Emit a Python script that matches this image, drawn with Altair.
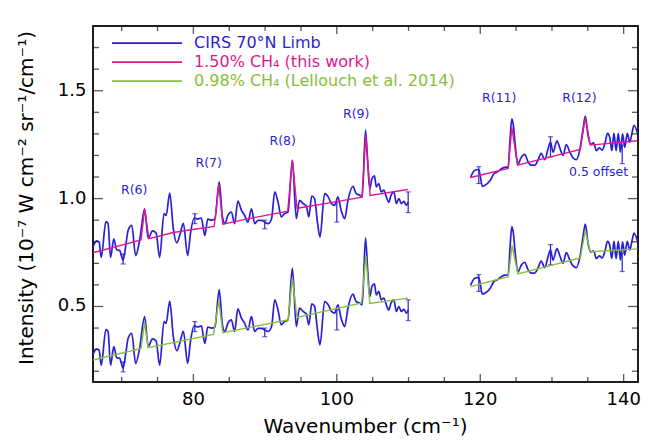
import altair as alt
import pandas as pd

BLUE = "#2a1fd6"
MAGENTA = "#e2178f"
GREEN = "#86c03a"
INK = "#111111"
FONT = "DejaVu Sans"

OBS = "CIRS 70°N Limb"
M150 = "1.50% CH₄ (this work)"
M098 = "0.98% CH₄ (Lellouch et al. 2014)"
X_TITLE = "Wavenumber (cm⁻¹)"
Y_TITLE = "Intensity (10⁻⁷ W cm⁻² sr⁻¹/cm⁻¹)"
OFFSET = 0.5  # the upper set is shown with a 0.5 offset

# ---- observed spectrum (upper, offset copy), segment 1 ----
obs1_wn = [66.0, 66.5, 66.85, 67.15, 67.8, 68.1, 68.45, 68.9, 69.3, 69.7,
           70.2, 70.6, 70.9, 71.4, 71.95, 72.5, 73.2, 73.7, 74.3, 74.8,
           75.3, 75.9, 76.2, 76.7, 77.2, 77.7, 78.1, 78.6, 79.2, 79.6,
           80.1, 80.6, 81.1, 81.6, 82.0, 82.5, 83.0, 83.6, 84.05, 84.4,
           84.8, 85.3, 85.75, 86.2, 86.7, 87.15, 87.6, 88.1, 88.55, 89.0,
           89.5, 89.95, 90.4, 90.9, 91.35, 91.8, 92.25, 92.7, 93.2, 93.8,
           94.35, 94.8, 95.3, 95.75, 96.1, 96.5, 96.9, 97.3, 97.65, 98.3,
           98.8, 99.25, 99.7, 100.15, 100.6, 101.1, 101.55, 102.25, 102.7, 103.2,
           103.55, 104.0, 104.3, 104.6, 104.9, 105.25, 105.5, 105.85, 106.2, 106.55,
           106.9, 107.25, 107.55, 107.95, 108.3, 108.65, 109.0, 109.35, 109.7, 109.95]
obs1_val = [0.775, 0.804, 0.798, 0.728, 0.893, 0.884, 0.728, 0.814, 0.763, 0.760,
            0.715, 0.790, 0.853, 0.876, 0.736, 0.806, 0.953, 0.815, 0.850, 0.840,
            0.728, 0.930, 0.922, 1.025, 0.860, 0.795, 0.830, 0.885, 0.736, 0.840,
            0.910, 0.905, 0.910, 0.829, 0.905, 0.900, 0.905, 1.078, 0.915, 0.884,
            0.922, 0.938, 0.884, 0.989, 0.946, 0.922, 0.891, 0.953, 0.884, 0.899,
            0.899, 0.891, 0.884, 0.907, 1.031, 0.984, 0.915, 0.930, 0.938, 1.178,
            0.907, 0.992, 0.977, 0.965, 0.915, 1.012, 1.000, 0.891, 0.822, 1.023,
            1.008, 0.977, 0.969, 1.008, 0.946, 0.907, 0.992, 1.057, 1.023, 1.016,
            1.008, 1.318, 1.171, 1.046, 1.093, 1.105, 1.054, 1.070, 1.031, 1.039,
            1.008, 0.984, 1.015, 1.031, 0.977, 1.000, 0.977, 0.987, 0.969, 0.984]

# ---- observed spectrum (upper), segment 2 ----
obs2_wn = [118.65, 119.2, 119.8, 120.3, 120.85, 121.4, 121.9, 122.45, 122.95, 123.4,
           123.9, 124.15, 124.4, 124.6, 124.9, 125.25, 125.7, 126.2, 126.65, 127.1,
           127.6, 128.05, 128.5, 129.0, 129.45, 129.8, 130.15, 130.7, 131.1, 131.55,
           132.0, 132.5, 132.95, 133.4, 133.95, 134.35, 134.65, 135.05, 135.4, 135.8,
           136.2, 136.6, 137.0, 137.4, 137.75, 138.05, 138.35, 138.65, 138.95, 139.25,
           139.55, 139.85, 140.15, 140.5, 140.85, 141.2, 141.45, 141.95]
obs2_val = [1.098, 1.130, 1.135, 1.057, 1.066, 1.085, 1.115, 1.125, 1.138, 1.145,
            1.147, 1.270, 1.370, 1.345, 1.240, 1.160, 1.190, 1.205, 1.172, 1.155,
            1.155, 1.178, 1.210, 1.180, 1.230, 1.262, 1.215, 1.268, 1.235, 1.200,
            1.250, 1.215, 1.188, 1.180, 1.238, 1.326, 1.382, 1.290, 1.252, 1.258,
            1.222, 1.235, 1.225, 1.258, 1.302, 1.285, 1.222, 1.302, 1.222, 1.302,
            1.215, 1.300, 1.238, 1.302, 1.262, 1.310, 1.340, 1.300]

# ---- 1.50% CH4 model (upper) ----
m150_1_wn = [66.0, 72.7, 73.2, 73.8, 77.2, 80.6, 82.9, 83.55, 84.1, 87.4,
             93.15, 93.82, 94.45, 99.0, 103.5, 104.05, 104.65, 109.9]
m150_1_val = [0.749, 0.808, 0.951, 0.814, 0.843, 0.860, 0.871, 1.065, 0.882, 0.905,
              0.942, 1.177, 0.955, 0.980, 1.007, 1.295, 1.015, 1.042]
m150_2_wn = [118.65, 123.9, 124.4, 125.2, 133.95, 134.65, 135.35, 141.95]
m150_2_val = [1.098, 1.140, 1.330, 1.155, 1.228, 1.375, 1.248, 1.268]

# ---- 0.98% CH4 model (lower) ----
m098_1_wn = [66.0, 72.7, 73.2, 73.7, 82.8, 83.55, 84.1, 93.2, 93.8, 94.45,
             103.45, 104.05, 104.6, 109.9]
m098_1_val = [0.252, 0.306, 0.425, 0.309, 0.371, 0.526, 0.379, 0.438, 0.630, 0.449,
              0.516, 0.736, 0.514, 0.539]
m098_2_wn = [118.65, 123.9, 124.45, 125.25, 133.95, 134.65, 135.35, 141.95]
m098_2_val = [0.592, 0.638, 0.782, 0.651, 0.725, 0.852, 0.754, 0.767]

# ---- error bars (upper set) ----
err_wn = [70.2, 80.2, 89.95, 100.0, 109.95, 119.8, 129.8, 139.8]
err_mid = [0.720, 0.907, 0.880, 0.938, 0.983, 1.109, 1.240, 1.205]
err_half = [0.023, 0.023, 0.020, 0.047, 0.048, 0.039, 0.047, 0.043]

# ---- annotations ----
ann_text = ["R(6)", "R(7)", "R(8)", "R(9)", "R(11)", "R(12)", "0.5 offset"]
ann_wn = [71.75, 82.14, 92.46, 102.71, 122.65, 133.84, 136.5]
ann_val = [1.039, 1.166, 1.268, 1.392, 1.466, 1.466, 1.124]

# ---- axes: ranges, ticks and tick labels ----
X_MIN, X_MAX = 66, 142
Y_MIN, Y_MAX = 0.15, 1.8
x_major = [80, 100, 120, 140]
x_major_lbl = ["80", "100", "120", "140"]
x_minor = [70, 75, 85, 90, 95, 105, 110, 115, 125, 130, 135]
y_major = [0.5, 1.0, 1.5]
y_major_lbl = ["0.5", "1.0", "1.5"]
y_minor = [0.2, 0.3, 0.4, 0.6, 0.7, 0.8, 0.9, 1.1, 1.2, 1.3, 1.4, 1.6, 1.7, 1.8]

# ---------------- tables ----------------
rows = []
for wn, v in zip(obs1_wn, obs1_val):
    rows.append(dict(wn=wn, val=v, series=OBS, grp="o1u"))
    rows.append(dict(wn=wn, val=v - OFFSET, series=OBS, grp="o1l"))
for wn, v in zip(obs2_wn, obs2_val):
    rows.append(dict(wn=wn, val=v, series=OBS, grp="o2u"))
    rows.append(dict(wn=wn, val=v - OFFSET, series=OBS, grp="o2l"))
obs_df = pd.DataFrame(rows)

mrows = []
for wn, v in zip(m150_1_wn, m150_1_val):
    mrows.append(dict(wn=wn, val=v, series=M150, grp="a1"))
for wn, v in zip(m150_2_wn, m150_2_val):
    mrows.append(dict(wn=wn, val=v, series=M150, grp="a2"))
for wn, v in zip(m098_1_wn, m098_1_val):
    mrows.append(dict(wn=wn, val=v, series=M098, grp="b1"))
for wn, v in zip(m098_2_wn, m098_2_val):
    mrows.append(dict(wn=wn, val=v, series=M098, grp="b2"))
mod_df = pd.DataFrame(mrows)

erows = []
for wn, m, h in zip(err_wn, err_mid, err_half):
    for off in (0.0, OFFSET):
        erows.append(dict(wn=wn, lo=m - off - h, hi=m - off + h))
err_df = pd.DataFrame(erows)

ann_df = pd.DataFrame(dict(wn=ann_wn, val=ann_val, label=ann_text))

xt_df = pd.DataFrame(dict(
    wn=x_major + x_minor,
    kind=["major"] * len(x_major) + ["minor"] * len(x_minor),
    ylo=Y_MIN, yhi=Y_MAX,
))
yt_df = pd.DataFrame(dict(
    val=y_major + y_minor,
    kind=["major"] * len(y_major) + ["minor"] * len(y_minor),
    xlo=X_MIN, xhi=X_MAX,
))
xl_df = pd.DataFrame(dict(wn=x_major, label=x_major_lbl, ylo=Y_MIN))
yl_df = pd.DataFrame(dict(val=y_major, label=y_major_lbl, xlo=X_MIN))
frame_df = pd.DataFrame(dict(x0=[X_MIN], x1=[X_MAX], y0=[Y_MIN], y1=[Y_MAX]))

# ---------------- scales ----------------
x_scale = alt.Scale(domain=[X_MIN, X_MAX], nice=False, zero=False)
y_scale = alt.Scale(domain=[Y_MIN, Y_MAX], nice=False, zero=False)
color_scale = alt.Scale(domain=[OBS, M150, M098], range=[BLUE, MAGENTA, GREEN])

X = lambda f: alt.X(f, scale=x_scale, axis=None)
Y = lambda f: alt.Y(f, scale=y_scale, axis=None)

legend = alt.Legend(
    orient="none", legendX=18, legendY=8, title=None, padding=0,
    symbolType="stroke", symbolSize=4900, symbolStrokeWidth=1.6,
    clipHeight=18.3, rowPadding=0, labelOffset=11,
    labelFont=FONT, labelFontSize=16, labelLimit=600,
    labelColor={"expr": f"indexof(datum.label, 'CIRS') >= 0 ? '{BLUE}' : "
                        f"(indexof(datum.label, 'this') >= 0 ? '{MAGENTA}' : '{GREEN}')"},
)

# plot frame
frame_layer = alt.Chart(frame_df).mark_rect(
    filled=False, fill=None, stroke=INK, strokeWidth=1.5
).encode(x=X("x0:Q"), x2="x1:Q", y=Y("y0:Q"), y2="y1:Q")

obs_layer = alt.Chart(obs_df).mark_line(strokeWidth=1.7, clip=True, interpolate="monotone").encode(
    x=X("wn:Q"), y=Y("val:Q"),
    color=alt.Color("series:N", scale=color_scale, legend=legend),
    detail="grp:N",
)

mod_layer = alt.Chart(mod_df).mark_line(strokeWidth=1.4, clip=True).encode(
    x=X("wn:Q"), y=Y("val:Q"),
    color=alt.Color("series:N", scale=color_scale, legend=legend),
    detail="grp:N",
)

err_layer = alt.Chart(err_df).mark_rule(color=BLUE, strokeWidth=1.2).encode(
    x=X("wn:Q"), y=Y("lo:Q"), y2="hi:Q",
)
cap_lo = alt.Chart(err_df).mark_tick(color=BLUE, orient="horizontal", size=5, thickness=1.2).encode(
    x=X("wn:Q"), y=Y("lo:Q"),
)
cap_hi = alt.Chart(err_df).mark_tick(color=BLUE, orient="horizontal", size=5, thickness=1.2).encode(
    x=X("wn:Q"), y=Y("hi:Q"),
)

ann_layer = alt.Chart(ann_df).mark_text(
    color=BLUE, font=FONT, fontSize=12.5, align="center", baseline="middle"
).encode(
    x=X("wn:Q"), y=Y("val:Q"), text="label:N",
)

# inward frame ticks (major and minor on all four sides)
TICK_LEN = {"x": {"major": 8, "minor": 5}, "y": {"major": 10, "minor": 6}}
tick_layers = []
for kind in ("major", "minor"):
    L = TICK_LEN["x"][kind]
    base = alt.Chart(xt_df).transform_filter(alt.datum.kind == kind)
    tick_layers.append(base.mark_tick(color=INK, orient="vertical", size=L,
                                      thickness=1.3, yOffset=-L / 2).encode(
        x=X("wn:Q"), y=Y("ylo:Q")))
    tick_layers.append(base.mark_tick(color=INK, orient="vertical", size=L,
                                      thickness=1.3, yOffset=L / 2).encode(
        x=X("wn:Q"), y=Y("yhi:Q")))
    L = TICK_LEN["y"][kind]
    base = alt.Chart(yt_df).transform_filter(alt.datum.kind == kind)
    tick_layers.append(base.mark_tick(color=INK, orient="horizontal", size=L,
                                      thickness=1.3, xOffset=L / 2).encode(
        x=X("xlo:Q"), y=Y("val:Q")))
    tick_layers.append(base.mark_tick(color=INK, orient="horizontal", size=L,
                                      thickness=1.3, xOffset=-L / 2).encode(
        x=X("xhi:Q"), y=Y("val:Q")))

# tick labels, placed through the scales just outside the frame
xlab_layer = alt.Chart(xl_df).mark_text(
    font=FONT, fontSize=18, color="black", align="center", baseline="top", dy=9
).encode(x=X("wn:Q"), y=Y("ylo:Q"), text="label:N")
ylab_layer = alt.Chart(yl_df).mark_text(
    font=FONT, fontSize=18, color="black", align="right", baseline="middle", dx=-6.5
).encode(x=X("xlo:Q"), y=Y("val:Q"), text="label:N")

# axis titles
xtitle_layer = alt.Chart(pd.DataFrame({"t": [X_TITLE]})).mark_text(
    font=FONT, fontSize=20, color="black", align="center", baseline="alphabetic"
).encode(x=alt.value(272.5), y=alt.value(407), text="t:N")
ytitle_layer = alt.Chart(pd.DataFrame({"t": [Y_TITLE]})).mark_text(
    font=FONT, fontSize=20, color="black", align="center", baseline="bottom", angle=270
).encode(x=alt.value(-56), y=alt.value(172), text="t:N")

chart = alt.layer(
    frame_layer, obs_layer, err_layer, cap_lo, cap_hi, mod_layer, ann_layer, *tick_layers,
    xlab_layer, ylab_layer, xtitle_layer, ytitle_layer
).properties(
    width=545, height=356,
    autosize=alt.AutoSizeParams(type="none"),
    padding={"left": 93, "top": 26, "right": 14, "bottom": 59},
    background="white",
).configure_view(
    stroke=INK, strokeWidth=1.5
)

chart.save("out.html", embed_options={"renderer": "svg", "actions": False})
